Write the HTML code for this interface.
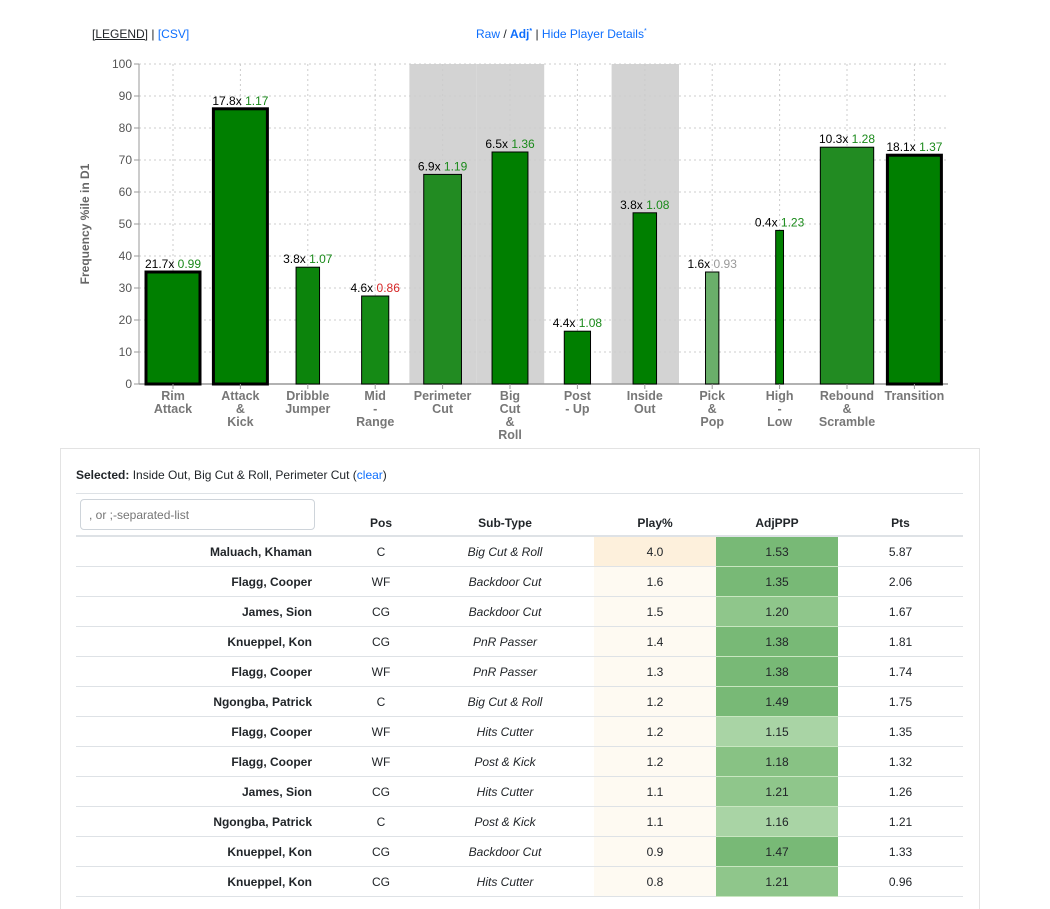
<!DOCTYPE html>
<html><head><meta charset="utf-8">
<style>
body{margin:0;width:1050px;height:891px;overflow:hidden;background:#fff;font-family:"Liberation Sans",sans-serif;color:#212529}
a{color:#0d6efd;text-decoration:none}
#top{position:absolute;top:27px;left:92px;font-size:12px}
#mid{position:absolute;top:27px;left:476px;font-size:12px}
#panel{position:absolute;left:60px;top:448px;width:918px;height:460px;border:1px solid #e3e3e3;border-bottom:none}
#sel{position:absolute;left:15px;top:19px;font-size:12px}
table{position:absolute;left:15px;top:44px;width:887px;border-collapse:collapse;font-size:12px;table-layout:fixed}
th{font-weight:bold;height:36px;vertical-align:bottom;padding:0 0 5px 0;border-top:1px solid #dee2e6;border-bottom:2px solid #dee2e6}
td{height:29px;border-bottom:1px solid #dee2e6;text-align:center;padding:0}
td.n{text-align:right;font-weight:bold;padding-right:4px}
td.s{font-style:italic;padding-right:30px}
input{position:absolute;left:4px;top:5px;width:235px;height:31px;border:1px solid #ced4da;border-radius:4px;font-size:12px;padding:0 8px;box-sizing:border-box;color:#777;font-family:"Liberation Sans",sans-serif}
</style></head><body>
<div id="top"><span style="text-decoration:underline">[LEGEND]</span> | <a>[CSV]</a></div>
<div id="mid"><a>Raw</a> / <a style="font-weight:bold">Adj<sup style="font-size:7px">*</sup></a> | <a>Hide Player Details<sup style="font-size:7px">*</sup></a></div>
<svg id="chart" width="1050" height="445" style="position:absolute;left:0;top:0"></svg>
<div id="panel">
<div id="sel"><b>Selected:</b> Inside Out, Big Cut &amp; Roll, Perimeter Cut (<a>clear</a>)</div>
<table><thead><tr>
<th style="width:240px;position:relative"><input placeholder=", or ;-separated-list"></th>
<th style="width:130px">Pos</th>
<th style="width:118px;padding-right:30px">Sub-Type</th>
<th style="width:122px">Play%</th>
<th style="width:122px">AdjPPP</th>
<th style="width:125px">Pts</th></tr></thead><tbody id="tb"></tbody></table>
</div>
<script>
const cats=["Rim\nAttack","Attack\n&\nKick","Dribble\nJumper","Mid\n-\nRange","Perimeter\nCut","Big\nCut\n&\nRoll","Post\n- Up","Inside\nOut","Pick\n&\nPop","High\n-\nLow","Rebound\n&\nScramble","Transition"];
const pctile=[35,86,36.5,27.5,65.5,72.5,16.5,53.5,35,48,74,71.5];
const freq=[21.7,17.8,3.8,4.6,6.9,6.5,4.4,3.8,1.6,0.4,10.3,18.1];
const ppp=[0.99,1.17,1.07,0.86,1.19,1.36,1.08,1.08,0.93,1.23,1.28,1.37];
const shade=[0,0,1,2,3,0,0,0,4,0,3,0];
const selected=[4,5,7];
const highlighted=[0,1,11];
const yTicks=[0,10,20,30,40,50,60,70,80,90,100];
const NS="http://www.w3.org/2000/svg";
const svg=document.getElementById('chart');
const x0=139,x1=948,step=67.4,y0=384,yTop=64;
const X=i=>173+i*step;
const Y=v=>y0-(v/100)*(y0-yTop);
function mk(t,a){const e=document.createElementNS(NS,t);for(const k in a)e.setAttribute(k,a[k]);svg.appendChild(e);return e;}
selected.forEach(i=>{const r=mk('rect',{x:X(i)-step/2+0.5,y:yTop,width:step,height:y0-yTop,fill:'#d3d3d3'});

});
yTicks.forEach(t=>{const l=mk('line',{x1:x0,x2:x1,y1:Y(t),y2:Y(t),stroke:'#ccc','stroke-dasharray':'2,3'});


mk('line',{x1:x0-5,x2:x0,y1:Y(t),y2:Y(t),stroke:'#999'});
const tx=mk('text',{x:x0-7,y:Y(t)+4,'text-anchor':'end','font-size':12,fill:'#555'});tx.textContent=t;

});
cats.forEach((c,i)=>{const l=mk('line',{x1:X(i),x2:X(i),y1:yTop,y2:y0,stroke:'#ccc','stroke-dasharray':'2,3'});

});
mk('line',{x1:x0,x2:x0,y1:yTop,y2:y0,stroke:'#999'});
mk('line',{x1:x0,x2:x1,y1:y0,y2:y0,stroke:'#999','stroke-width':1.5});
const yt=mk('text',{x:89,y:224,transform:'rotate(-90 89 224)','text-anchor':'middle','font-size':12,'font-weight':'bold',fill:'#666'});yt.textContent='Frequency %ile in D1';


const shadeColors=['#007f00','#0c840c','#158a15','#228b22','#6aaf6a'];
function pppColor(p){if(p<0.9)return '#d62728';if(p<0.95)return '#999';return '#1a8a1a';}
cats.forEach((c,i)=>{
const w=Math.min(54,6+4.6*freq[i]);const hi=highlighted.includes(i);
const b=mk('rect',{x:X(i)-w/2,y:Y(pctile[i]),width:w,height:y0-Y(pctile[i]),fill:shadeColors[shade[i]],stroke:'#000','stroke-width':hi?3:1});


const t=mk('text',{x:X(i),y:Y(pctile[i])-4,'text-anchor':'middle','font-size':12});
t.innerHTML='<tspan fill="#000">'+freq[i].toFixed(1)+'x </tspan><tspan fill="'+pppColor(ppp[i])+'">'+ppp[i].toFixed(2)+'</tspan>';


mk('line',{x1:X(i),x2:X(i),y1:y0,y2:y0+5,stroke:'#999'});
const lt=mk('text',{x:X(i),y:400,'text-anchor':'middle','font-size':12.5,'font-weight':'bold',fill:'#777'});
c.split('\n').forEach((s,k)=>{const sp=document.createElementNS(NS,'tspan');sp.setAttribute('x',X(i));sp.setAttribute('dy',k?13:0);sp.textContent=s;lt.appendChild(sp);});


});
const names=["Maluach, Khaman","Flagg, Cooper","James, Sion","Knueppel, Kon","Flagg, Cooper","Ngongba, Patrick","Flagg, Cooper","Flagg, Cooper","James, Sion","Ngongba, Patrick","Knueppel, Kon","Knueppel, Kon"];
const pos=["C","WF","CG","CG","WF","C","WF","WF","CG","C","CG","CG"];
const sub=["Big Cut & Roll","Backdoor Cut","Backdoor Cut","PnR Passer","PnR Passer","Big Cut & Roll","Hits Cutter","Post & Kick","Hits Cutter","Post & Kick","Backdoor Cut","Hits Cutter"];
const play=[4.0,1.6,1.5,1.4,1.3,1.2,1.2,1.2,1.1,1.1,0.9,0.8];
const adj=[1.53,1.35,1.20,1.38,1.38,1.49,1.15,1.18,1.21,1.16,1.47,1.21];
const pts=[5.87,2.06,1.67,1.81,1.74,1.75,1.35,1.32,1.26,1.21,1.33,0.96];
function adjBg(v){if(v>=1.3)return '#78b976';if(v>=1.19)return '#8fc68b';if(v>=1.17)return '#88c284';return '#a9d4a5';}
const tb=document.getElementById('tb');
names.forEach((n,i)=>{const tr=document.createElement('tr');


tr.innerHTML='<td class="n">'+n+'</td><td>'+pos[i]+'</td><td class="s">'+sub[i].replace('&','&amp;')+'</td><td style="background:'+(play[i]>=3?'#fdf0dc':'#fefaf2')+'">'+play[i].toFixed(1)+'</td><td style="background:'+adjBg(adj[i])+';border-bottom:1px solid #c8e6c0">'+adj[i].toFixed(2)+'</td><td>'+pts[i].toFixed(2)+'</td>';
tb.appendChild(tr);});
</script>
</body></html>
